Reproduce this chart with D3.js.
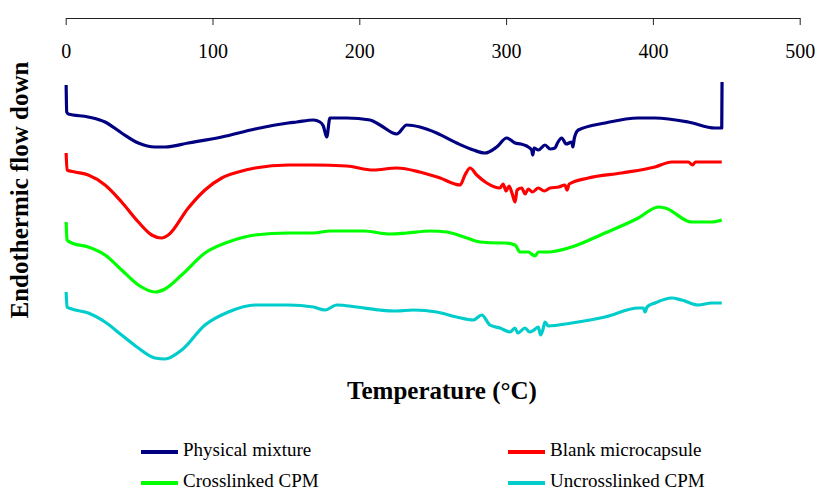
<!DOCTYPE html>
<html>
<head>
<meta charset="utf-8">
<script src="https://cdn.jsdelivr.net/npm/d3@7"></script>
<style>
  body { margin: 0; background: #fff; }
</style>
</head>
<body>
<div id="general"></div>
<script>
const w = 816, h = 494;
const serif = "'Liberation Serif', 'Times New Roman', serif";

const tempTicks = [0, 100, 200, 300, 400, 500];
const seriesNames = ["Physical mixture", "Blank microcapsule", "Crosslinked CPM", "Uncrosslinked CPM"];
const seriesColors = ["#000080", "#ff0000", "#00ff00", "#00cccc"];

// [temperature (°C), heat flow (a.u.)]
const physicalMixture = [
  [0.3, 31.5], [0.7, 28.8], [1.8, 28.6], [15.4, 28.3], [26.8, 27.8], [38.1, 26.7], [49.5, 25.7],
  [60.8, 25.3], [67.6, 25.3], [83.5, 25.7], [106.3, 26.3], [129.0, 27.1], [151.6, 27.7], [157.4, 27.8],
  [168.7, 28.0], [173.2, 27.8], [175.5, 27.4], [177.8, 26.3], [180.0, 28.2], [191.4, 28.2], [207.3, 28.0],
  [214.1, 27.5], [225.5, 26.6], [232.3, 27.5], [241.3, 27.3], [252.7, 26.7], [266.3, 25.7], [277.7, 25.0],
  [285.6, 24.7], [293.6, 25.3], [300.4, 26.2], [306.1, 25.7], [310.0, 25.6], [314.0, 25.4], [317.4, 25.0],
  [318.2, 24.5], [319.0, 25.2], [322.0, 25.0], [326.5, 25.5], [330.0, 25.1], [333.3, 25.2], [335.0, 25.7],
  [337.9, 26.2], [341.0, 25.6], [344.7, 25.8], [345.5, 25.3], [346.5, 26.2], [349.2, 27.0], [367.4, 27.7],
  [390.1, 28.2], [401.4, 28.2], [424.1, 27.8], [442.3, 27.2], [446.9, 27.2], [447.1, 31.8]
];
const blankMicrocapsule = [
  [0.3, 24.7], [0.9, 23.0], [6.3, 22.8], [15.4, 22.5], [26.8, 21.5], [38.1, 19.8], [49.5, 17.8],
  [58.6, 16.5], [65.4, 16.2], [69.9, 16.5], [83.5, 19.2], [94.9, 21.0], [106.3, 22.2], [117.6, 22.8],
  [129.0, 23.2], [151.6, 23.5], [168.7, 23.5], [191.4, 23.4], [209.5, 23.0], [225.5, 23.2], [241.3, 22.8],
  [255.0, 22.2], [268.6, 21.5], [272.0, 22.5], [275.4, 23.2], [280.0, 22.5], [286.8, 21.7], [295.8, 21.2],
  [298.0, 21.6], [300.0, 20.9], [302.0, 21.4], [304.0, 20.7], [306.1, 19.8], [307.5, 21.0], [310.6, 21.2],
  [313.0, 20.6], [315.0, 21.1], [318.0, 20.8], [321.9, 21.2], [326.0, 20.9], [330.0, 21.2], [336.0, 21.3],
  [340.1, 21.5], [341.5, 21.0], [343.0, 21.6], [356.0, 22.2], [378.7, 22.7], [401.4, 23.3], [412.8, 23.8],
  [424.1, 23.8], [427.0, 23.5], [429.0, 23.8], [446.9, 23.8]
];
const crosslinkedCPM = [
  [0.3, 17.8], [0.9, 16.0], [4.1, 15.7], [15.4, 15.3], [26.8, 14.5], [38.1, 13.0], [49.5, 11.5],
  [60.8, 10.8], [67.6, 11.1], [79.0, 12.5], [94.9, 14.7], [110.8, 15.8], [129.0, 16.5], [151.6, 16.7],
  [168.7, 16.7], [180.0, 16.9], [202.7, 16.9], [220.9, 16.6], [232.3, 16.7], [248.2, 16.9], [259.5, 16.8],
  [273.2, 16.2], [282.2, 15.8], [295.8, 15.7], [299.2, 15.7], [306.1, 15.5], [309.5, 14.8], [315.0, 14.8],
  [319.7, 14.4], [322.0, 14.8], [328.7, 14.8], [344.7, 15.3], [367.4, 16.7], [390.1, 18.2], [403.7, 19.3],
  [408.3, 19.2], [426.4, 17.8], [440.1, 17.8], [446.9, 18.0]
];
const uncrosslinkedCPM = [
  [0.3, 10.8], [0.9, 9.3], [4.1, 9.1], [15.4, 8.7], [26.8, 7.8], [38.1, 6.5], [49.5, 5.2],
  [60.8, 4.2], [67.6, 4.1], [79.0, 5.0], [94.9, 7.5], [110.8, 8.8], [129.0, 9.5], [151.6, 9.5],
  [168.7, 9.3], [176.7, 9.0], [184.6, 9.5], [198.2, 9.3], [214.1, 9.0], [225.5, 8.9], [236.8, 9.0],
  [252.7, 8.8], [266.3, 8.3], [277.7, 8.0], [283.4, 8.5], [289.0, 7.5], [295.8, 7.2], [302.7, 6.8],
  [306.0, 7.2], [308.0, 6.7], [312.9, 7.2], [316.0, 6.8], [319.0, 7.0], [321.9, 7.3], [323.5, 6.5],
  [325.0, 7.0], [326.5, 7.8], [328.7, 7.4], [344.7, 7.7], [367.4, 8.3], [390.1, 9.2], [393.5, 9.2],
  [394.6, 8.8], [396.0, 9.3], [401.4, 9.7], [412.8, 10.2], [419.6, 10.0], [430.9, 9.5], [440.1, 9.7],
  [446.9, 9.7]
];

const allSeries = [physicalMixture, blankMicrocapsule, crosslinkedCPM, uncrosslinkedCPM];

function makeChart() {
  const svg = d3.select("#general").append("svg")
    .attr("width", w).attr("height", h)
    .attr("font-family", serif);

  const x = d3.scaleLinear().domain([0, 500]).range([65.7, 799.7]);
  const y = d3.scaleLinear().domain([0, 32]).range([400, 80]);

  // temperature axis sits on top
  const axis = svg.append("g")
    .attr("transform", "translate(0,18)")
    .call(d3.axisBottom(x).tickValues(tempTicks).tickSize(7).tickSizeOuter(0).tickPadding(19));
  axis.attr("font-family", serif).attr("font-size", 20);
  axis.select(".domain").attr("stroke", "#222");
  axis.selectAll(".tick line").attr("stroke", "#222");
  axis.selectAll(".tick text").attr("fill", "#000");

  const line = d3.line()
    .curve(d3.curveMonotoneX)
    .x(d => x(d[0]))
    .y(d => y(d[1]));

  svg.append("g").selectAll("path")
    .data(allSeries)
    .join("path")
      .attr("fill", "none")
      .attr("stroke", (d, i) => seriesColors[i])
      .attr("stroke-width", 3.2)
      .attr("stroke-linejoin", "round")
      .attr("d", line);

  svg.append("text")
    .attr("x", 442).attr("y", 393)
    .attr("text-anchor", "middle")
    .attr("dominant-baseline", "middle")
    .attr("font-size", 25)
    .attr("font-weight", "bold")
    .text("Temperature (°C)");

  svg.append("text")
    .attr("transform", "translate(22,190) rotate(-90)")
    .attr("text-anchor", "middle")
    .attr("dominant-baseline", "middle")
    .attr("font-size", 25)
    .attr("font-weight", "bold")
    .text("Endothermic flow down");

  // legend, two columns
  const legend = svg.append("g").selectAll("g")
    .data(seriesNames)
    .join("g")
      .attr("transform", (d, i) => `translate(${i % 2 === 0 ? 141 : 508},${i < 2 ? 452 : 483})`);

  legend.append("line")
    .attr("x1", 0).attr("x2", 37)
    .attr("stroke", (d, i) => seriesColors[i])
    .attr("stroke-width", 4);

  legend.append("text")
    .attr("x", 42)
    .attr("dominant-baseline", "middle")
    .attr("font-size", 19)
    .text(d => d);
}

makeChart();
</script>
</body>
</html>
